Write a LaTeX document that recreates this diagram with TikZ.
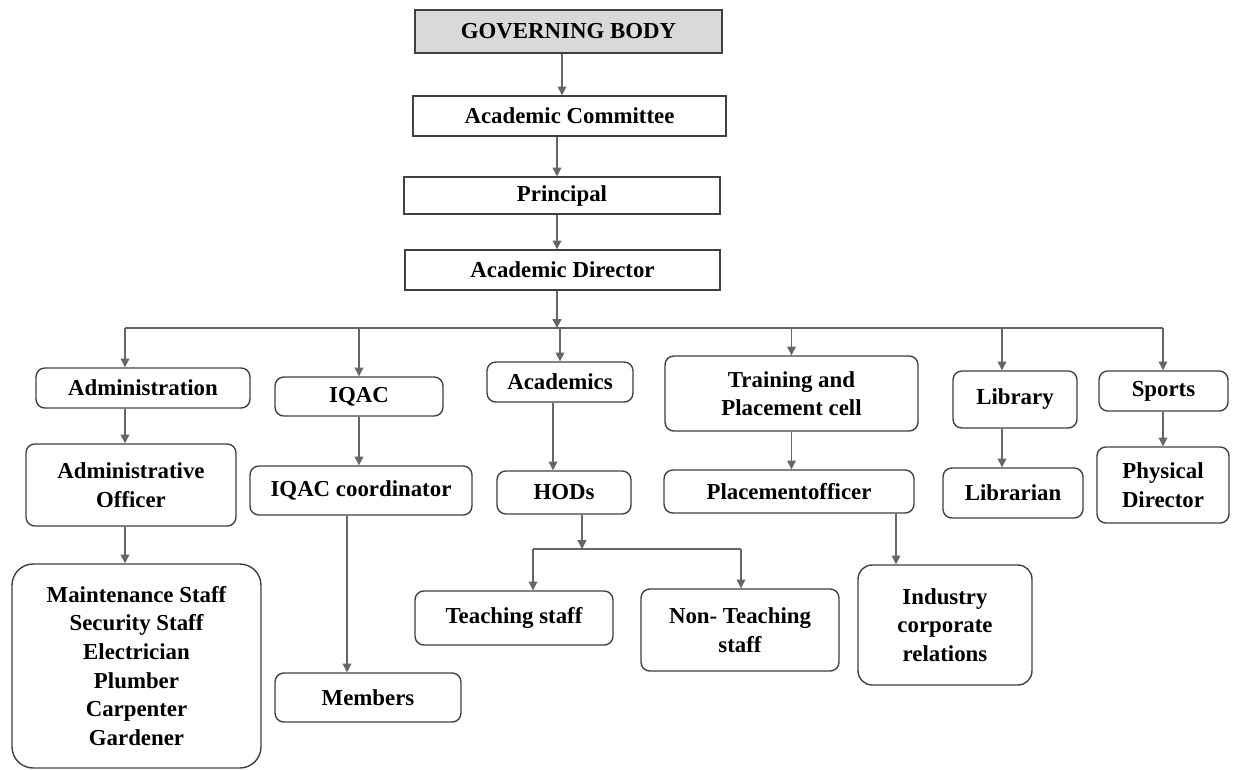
\documentclass[tikz,border=0pt]{standalone}
\usepackage{fontspec}
\setmainfont{Liberation Serif}
\usetikzlibrary{arrows.meta}

\begin{document}
\begin{tikzpicture}[x=0.02cm, y=-0.02cm,
            every node/.style={align=center, inner sep=2pt, font=\bfseries\fontsize{13}{16.3}\selectfont},
            box/.style={draw=black!75, line width=0.8pt, rounded corners=5pt},
            sqbox/.style={draw=black!75, line width=0.8pt},
            topbox/.style={sqbox, fill=black!15},
            conn/.style={draw=black!60, line width=0.7pt},
            arr/.style={conn, -{Triangle[length=5pt,width=5pt]}}]
        \useasboundingbox (0,0) rectangle (1238,769);
        \node[topbox, minimum width=6.14cm, minimum height=0.86cm] (gb) at (568.5,31.5) {GOVERNING BODY};
        \node[sqbox, minimum width=6.26cm, minimum height=0.8cm] (ac) at (569.5,116) {Academic Committee};
        \node[sqbox, minimum width=6.32cm, minimum height=0.74cm] (pr) at (562,195.5) {Principal};
        \node[sqbox, minimum width=6.3cm, minimum height=0.8cm] (ad) at (562.5,270) {Academic Director};

        \node[box, minimum width=4.28cm, minimum height=0.8cm] (adm) at (143,388) {Administration};
        \node[box, minimum width=3.36cm, minimum height=0.78cm] (iqac) at (359,396.5) {IQAC};
        \node[box, minimum width=2.92cm, minimum height=0.8cm] (acad) at (560,382) {Academics};
        \node[box, minimum width=5.06cm, minimum height=1.5cm] (tpc) at (791.5,393.5) {Training and\\Placement cell};
        \node[box, minimum width=2.48cm, minimum height=1.14cm] (lib) at (1015,399.5) {Library};
        \node[box, minimum width=2.58cm, minimum height=0.8cm] (spo) at (1163.5,391) {Sports};

        \node[box, minimum width=4.2cm, minimum height=1.64cm] (ao) at (131,485) {Administrative\\Officer};
        \node[box, minimum width=4.44cm, minimum height=0.98cm] (iqc) at (361,490.5) {IQAC coordinator};
        \node[box, minimum width=2.68cm, minimum height=0.86cm] (hods) at (564,492.5) {HODs};
        \node[box, minimum width=5cm, minimum height=0.86cm] (po) at (789,491.5) {Placementofficer};
        \node[box, minimum width=2.8cm, minimum height=1cm] (lbn) at (1013,493) {Librarian};
        \node[box, minimum width=2.64cm, minimum height=1.52cm] (pd) at (1163,485) {Physical\\Director};

        \node[box, rounded corners=12pt, minimum width=4.98cm, minimum height=4.08cm] (staff) at (136.5,666)
            {Maintenance Staff\\Security Staff\\Electrician\\Plumber\\Carpenter\\Gardener};
        \node[box, minimum width=3.72cm, minimum height=0.98cm] (mem) at (368,697.5) {Members};
        \node[box, minimum width=3.96cm, minimum height=1.08cm] (ts) at (514,618) {Teaching staff};
        \node[box, minimum width=3.96cm, minimum height=1.64cm] (nts) at (740,630) {Non- Teaching\\staff};
        \node[box, rounded corners=8pt, minimum width=3.48cm, minimum height=2.4cm] (ind) at (945,625) {Industry\\corporate\\relations};

        \coordinate (topx) at (562,0);
        \coordinate (midx) at (557,0);
        \coordinate (bus) at (557,328);
        \coordinate (busL) at (125,328);
        \coordinate (busR) at (1163,328);
        \coordinate (libx) at (1002,328);
        \coordinate (hodx) at (553,0);
        \coordinate (hbus) at (582,549);
        \coordinate (hbusL) at (533,549);
        \coordinate (hbusR) at (741,549);
        \coordinate (memx) at (347,600);
        \coordinate (indx) at (896,540);

        \draw[arr] (gb.south -| topx) -- (ac.north -| topx);
        \draw[arr] (ac.south -| midx) -- (pr.north -| midx);
        \draw[arr] (pr.south -| midx) -- (ad.north -| midx);
        \draw[arr] (ad.south -| bus) -- (bus);
        \draw[conn] (busL) -- (busR);
        \draw[arr] (busL) -- (busL |- adm.north);
        \draw[arr] (iqac.north |- bus) -- (iqac);
        \draw[arr] (acad.north |- bus) -- (acad);
        \draw[arr] (tpc.north |- bus) -- (tpc);
        \draw[arr] (libx) -- (libx |- lib.north);
        \draw[arr] (busR) -- (busR |- spo.north);

        \draw[arr] (adm.south -| busL) -- (ao.north -| busL);
        \draw[arr] (ao.south -| busL) -- (staff.north -| busL);
        \draw[arr] (iqac.south) -- (iqac.south |- iqc.north);
        \draw[arr] (iqc.south -| memx) -- (mem.north -| memx);
        \draw[arr] (acad.south -| hodx) -- (hods.north -| hodx);
        \draw[arr] (hods.south -| hbus) -- (hbus);
        \draw[conn] (hbusL) -- (hbusR);
        \draw[arr] (hbusL) -- (hbusL |- ts.north);
        \draw[arr] (hbusR) -- (hbusR |- nts.north);
        \draw[arr] (tpc) -- (po.north -| tpc.south);
        \draw[arr] (po.south -| indx) -- (ind.north -| indx);
        \draw[arr] (lib.south -| libx) -- (lbn.north -| libx);
        \draw[arr] (spo.south -| busR) -- (pd.north -| busR);
\end{tikzpicture}
\end{document}
